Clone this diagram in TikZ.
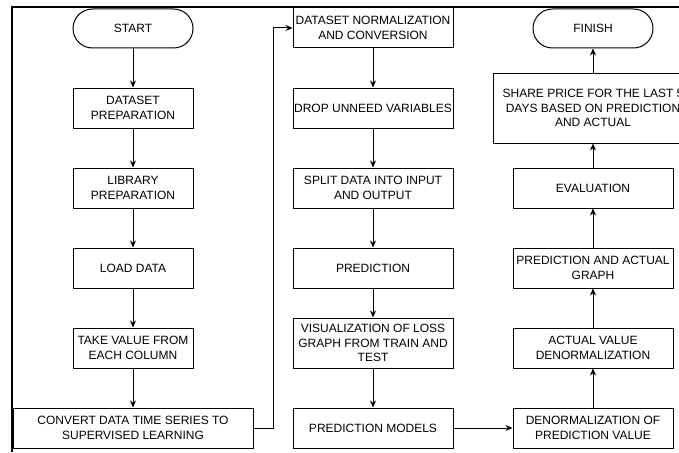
\documentclass[tikz,border=0pt]{standalone}
\usepackage{fontspec}
\setmainfont{Liberation Sans}
\usetikzlibrary{arrows.meta,positioning}
\usetikzlibrary{shapes}
\tikzset{
        flownode/.style={align=center,inner sep=0pt,font=\fontsize{12}{14.5}\selectfont},
        % Start and finish
        node_terminal/.style={flownode, rounded rectangle, draw=black, minimum width=120pt, minimum height=39pt},
        % Process steps
        node_step/.style={flownode, rectangle, draw=black, minimum width=120pt, minimum height=40pt},
        % Steps of the middle and right columns
        node_step_wide/.style={node_step, minimum width=160pt}
}

\begin{document}
\begin{tikzpicture}[
            x=1pt, y=-1pt,
            line width=1pt,
            >={Stealth[length=7pt,width=6pt]}
        ]
            \useasboundingbox (0,0) rectangle (679,452);
            % frame
            \draw[line width=2pt] (12,452) -- (12,7) -- (679,7);

            % first column
            \node[node_terminal] (start) at (133,28.5) {START};
            \node[node_step] (dataprep) at (133,108) {DATASET\\PREPARATION};
            \node[node_step] (libprep) at (133,188) {LIBRARY\\PREPARATION};
            \node[node_step] (load) at (133,268) {LOAD DATA};
            \node[node_step] (takeval) at (133,348) {TAKE VALUE FROM\\EACH COLUMN};
            \node[node_step, minimum width=240pt] (convert) at (133,428) {CONVERT DATA TIME SERIES TO\\SUPERVISED LEARNING};

            % second column
            \node[node_step_wide] (normalize) at (373,28) {DATASET NORMALIZATION\\AND CONVERSION};
            \node[node_step_wide] (dropvar) at (373,108) {DROP UNNEED VARIABLES};
            \node[node_step_wide] (split) at (373,188) {SPLIT DATA INTO INPUT\\AND OUTPUT};
            \node[node_step_wide] (predict) at (373,268) {PREDICTION};
            \node[node_step_wide, minimum height=50pt] (lossgraph) at (373,343) {VISUALIZATION OF LOSS\\GRAPH FROM TRAIN AND\\TEST};
            \node[node_step_wide] (models) at (373,428) {PREDICTION MODELS};

            % third column
            \node[node_step_wide] (denorm) at (593,428) {DENORMALIZATION OF\\PREDICTION VALUE};
            \node[node_step_wide] (actual) at (593,348) {ACTUAL VALUE\\DENORMALIZATION};
            \node[node_step_wide] (graph) at (593,268) {PREDICTION AND ACTUAL\\GRAPH};
            \node[node_step_wide] (eval) at (593,188) {EVALUATION};
            \node[node_step, minimum width=200pt, minimum height=70pt] (share) at (593,108) {SHARE PRICE FOR THE LAST 5\\DAYS BASED ON PREDICTION\\AND ACTUAL};
            \node[node_terminal] (finish) at (593,28.5) {FINISH};

            \coordinate (turn) at (273,428);

            \draw[->] (start) -- (dataprep);
            \draw[->] (dataprep) -- (libprep);
            \draw[->] (libprep) -- (load);
            \draw[->] (load) -- (takeval);
            \draw[->] (takeval) -- (convert);
            \draw[->] (convert.east) -- (turn) |- (normalize.west);
            \draw[->] (normalize) -- (dropvar);
            \draw[->] (dropvar) -- (split);
            \draw[->] (split) -- (predict);
            \draw[->] (predict) -- (lossgraph);
            \draw[->] (lossgraph) -- (models);
            \draw[->] (models) -- (denorm);
            \draw[->] (denorm) -- (actual);
            \draw[->] (actual) -- (graph);
            \draw[->] (graph) -- (eval);
            \draw[->] (eval) -- (share.south -| eval);
            \draw[->] (share.north -| finish) -- (finish);
        \end{tikzpicture}
\end{document}
